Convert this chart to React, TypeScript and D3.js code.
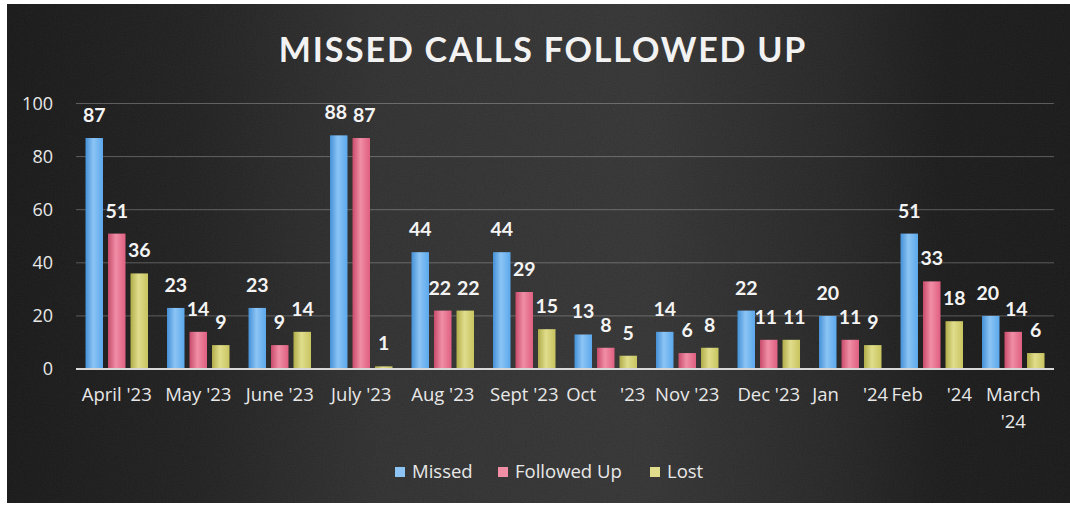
import React from "react";
import * as d3 from "d3";

const categories = ["April '23", "May '23", "June '23", "July '23", "Aug '23", "Sept '23", "Oct     '23", "Nov '23", "Dec '23", "Jan     '24", "Feb     '24", "March\n'24"];
const seriesNames = ["Missed", "Followed Up", "Lost"];
const missed = [87, 23, 23, 88, 44, 44, 13, 14, 22, 20, 51, 20];
const followedUp = [51, 14, 9, 87, 22, 29, 8, 6, 11, 11, 33, 14];
const lost = [36, 9, 14, 1, 22, 15, 5, 8, 11, 9, 18, 6];
const yTicks = [0, 20, 40, 60, 80, 100];
const title = "MISSED CALLS FOLLOWED UP";

const colors = ["#5ba8ec", "#df5f80", "#c8c460"];
const colorsLight = ["#8cc4f5", "#f08ea6", "#e0dd8c"];
const colorsDark = ["#4490d6", "#c84b6b", "#b0ac4a"];

const W = 1070;
const H = 506;
const FONT = "'Open Sans', Lato, sans-serif";
const TITLE_FONT = "Lato, 'Open Sans', sans-serif";
const LABEL_SIZE = 19.5;

export default function App() {
  const values = [missed, followedUp, lost];
  const x = d3.scaleBand<string>().domain(categories).range([76, 1054]).paddingInner(0).paddingOuter(0);
  const xs = d3.scaleBand<string>().domain(seriesNames).range([0, x.bandwidth()]).paddingInner(0.222).paddingOuter(0.422);
  const y = d3.scaleLinear().domain([0, 100]).range([369, 103.5]);

  // label positions with simple collision avoidance among neighbours in a group
  const labelPos = categories.map((c, ci) => {
    const pos = seriesNames.map((s, si) => {
      const v = values[si][ci];
      return { x: xs(s)! + xs.bandwidth() / 2, y: y(v) - 16, w: String(v).length * 0.58 * LABEL_SIZE, v };
    });
    for (let i = 1; i < pos.length; i++) {
      const a = pos[i - 1];
      const b = pos[i];
      if (Math.abs(a.y - b.y) < 16) {
        const need = a.w / 2 + b.w / 2 + 6 - (b.x - a.x);
        if (need > 0) {
          a.x -= need / 2;
          b.x += need / 2;
        }
      }
    }
    return pos;
  });

  return (
    <svg width={W} height={H} style={{ position: "absolute", left: 0, top: 0, display: "block" }}>
      <defs>
        <linearGradient id="bg" x1="0" x2="1" y1="0" y2="0">
          <stop offset="0" stopColor="#0e0e0e" />
          <stop offset="0.18" stopColor="#171717" />
          <stop offset="0.35" stopColor="#282828" />
          <stop offset="0.6" stopColor="#2c2c2c" />
          <stop offset="0.78" stopColor="#1d1d1d" />
          <stop offset="0.88" stopColor="#111111" />
          <stop offset="1" stopColor="#0f0f0f" />
        </linearGradient>
        <filter id="noise" x="0" y="0" width="100%" height="100%">
          <feTurbulence type="fractalNoise" baseFrequency="0.9" numOctaves="2" seed="3" result="t" />
          <feColorMatrix type="saturate" values="0" in="t" result="g" />
          <feComponentTransfer in="g">
            <feFuncA type="linear" slope="0" intercept="0.16" />
          </feComponentTransfer>
        </filter>
        {seriesNames.map((s, i) => (
          <linearGradient key={s} id={`bar${i}`} x1="0" x2="1" y1="0" y2="0">
            <stop offset="0" stopColor={colorsDark[i]} />
            <stop offset="0.45" stopColor={colorsLight[i]} />
            <stop offset="1" stopColor={colors[i]} />
          </linearGradient>
        ))}
      </defs>
      <rect x={0} y={0} width={W} height={H} fill="#ffffff" />
      <rect x={7} y={4} width={W - 7} height={499} fill="url(#bg)" />
      <rect x={7} y={4} width={W - 7} height={499} filter="url(#noise)" opacity={0.6} />

      <text x={543} y={62} textAnchor="middle" fill="#f2f2f2" fontFamily={TITLE_FONT} fontWeight={700} fontSize={34} letterSpacing={1.8}>
        {title}
      </text>

      {yTicks.map((t) => (
        <g key={t}>
          {t > 0 && (
            <line x1={76} x2={1054} y1={y(t)} y2={y(t)} stroke="#cfcfcf" strokeOpacity={0.35} strokeWidth={1} />
          )}
          <text x={53} y={y(t)} dy="0.35em" textAnchor="end" fill="#e8e8e8" fontFamily={FONT} fontSize={18}>
            {t}
          </text>
        </g>
      ))}

      {categories.map((c, ci) => (
        <g key={c} transform={`translate(${x(c)},0)`}>
          {seriesNames.map((s, si) => {
            const v = values[si][ci];
            const bx = xs(s)!;
            const lp = labelPos[ci][si];
            return (
              <g key={s}>
                <rect x={bx} y={y(v)} width={xs.bandwidth()} height={y(0) - y(v)} fill={`url(#bar${si})`} />
                <text x={lp.x} y={lp.y} textAnchor="middle" fill="#f4f4f4" fontFamily={TITLE_FONT} fontWeight={700} fontSize={LABEL_SIZE}>
                  {v}
                </text>
              </g>
            );
          })}
          {c.split("\n").map((line, li) => (
            <text key={li} x={x.bandwidth() / 2} y={401 + li * 27} textAnchor="middle" fill="#e8e8e8" fontFamily={FONT} fontSize={18.5} style={{ whiteSpace: "pre" }}>
              {line}
            </text>
          ))}
        </g>
      ))}

      <line x1={76} x2={1054} y1={y(0)} y2={y(0)} stroke="#d8d8d8" strokeWidth={2} />

      {seriesNames.map((s, i) => {
        const lx = [395, 498, 650][i];
        return (
          <g key={s}>
            <rect x={lx} y={467} width={10} height={10} fill={colorsLight[i]} />
            <text x={lx + 17} y={478} fill="#e8e8e8" fontFamily={FONT} fontSize={18.5}>
              {s}
            </text>
          </g>
        );
      })}
    </svg>
  );
}
